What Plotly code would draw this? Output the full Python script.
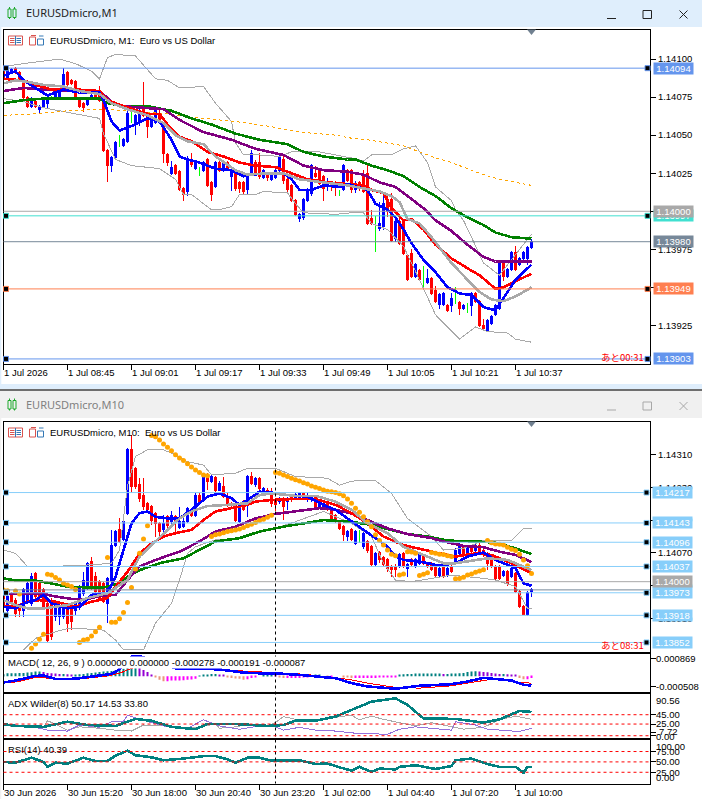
import plotly.graph_objects as go

W = 702
H = 799

# prices are kept as points above these bases
m1_base = 1.13900
m10_base = 1.13830

m1_open = [192,187,191,194,191,186,175,169,172,167,
           169,171,175,174,175,181,191,186,185,174,
           171,170,174,178,179,173,140,130,135,145,
           143,146,167,158,158,168,163,156,158,164,
           157,137,125,130,126,115,113,132,128,125,
           127,134,119,116,132,127,132,123,125,119,
           119,114,125,132,132,122,125,121,122,127,
           134,121,117,107,95,96,107,112,125,127,
           123,116,119,118,112,114,127,127,114,119,
           123,125,95,91,89,90,108,108,82,93,
           94,71,72,57,61,57,53,56,48,39,
           39,38,38,40,40,36,39,38,46,41,
           25,22,26,32,36,66,57,62,73,65,
           69,69,76]
m1_close = [187,193,193,191,186,175,169,174,169,169,
            173,173,175,177,180,190,183,184,174,169,
            168,174,176,175,173,140,130,135,145,145,
            147,164,167,163,164,163,156,159,168,158,
            138,132,129,125,114,111,134,131,132,125,
            132,117,111,132,127,132,128,127,115,115,
            113,124,138,125,123,127,122,124,127,135,
            120,114,107,98,98,108,114,130,123,118,
            115,118,116,116,112,130,120,114,118,115,
            113,92,92,91,92,105,100,81,93,79,
            72,55,57,65,55,57,56,46,41,45,
            46,35,43,40,36,38,39,46,41,25,
            23,28,31,38,67,57,62,73,62,69,
            73,76,80]
m1_high = [193,194,194,195,192,187,176,175,174,170,
           174,174,176,178,181,194,192,187,186,175,
           172,175,177,179,182,174,141,136,146,150,
           148,166,168,164,167,185,165,160,169,168,
           158,138,133,131,127,116,136,138,133,129,
           133,135,120,133,135,133,133,128,126,120,
           120,125,140,134,138,128,126,125,128,138,
           136,122,118,108,99,109,115,131,130,128,
           124,122,120,120,114,131,128,128,120,120,
           127,132,101,97,106,112,112,112,96,96,
           95,72,75,66,62,64,62,57,51,46,
           47,39,46,50,41,39,40,47,47,42,
           29,29,32,39,68,67,63,74,77,70,
           74,77,82]
m1_low = [186,186,190,190,185,174,168,168,168,164,
          168,167,173,173,174,180,182,183,173,168,
          165,169,173,174,172,139,119,126,134,142,
          142,145,158,150,156,162,148,155,157,157,
          132,130,124,124,113,107,110,129,127,123,
          126,116,107,115,126,126,127,113,113,112,
          111,111,124,124,121,121,120,120,121,126,
          118,112,106,97,93,94,106,110,122,117,
          107,113,113,110,110,113,119,112,112,113,
          112,91,91,73,87,88,96,80,80,78,
          71,54,56,56,54,50,52,45,40,36,
          38,34,34,39,32,35,33,31,40,24,
          22,21,25,31,35,54,56,61,61,64,
          68,65,75]

m1_blue_k = [0,3,5,8,11,15,19,24,25,27,29,31,33,36,39,42,44,46,49,53,57,60,62,66,70,72,74,77,80,84,86,91,93,96,98,100,102,105,108,111,114,117,120,123,125,128,132]
m1_blue_v = [189,192,186,181,176,180,178,178,173,159,153,155,157,161,159,147,136,134,132,128,127,123,124,125,125,121,114,114,117,116,118,114,105,101,96,88,79,68,60,50,46,45,37,35,43,55,65]
m1_red_k = [0,5,8,12,18,24,26,30,36,39,41,44,47,51,55,59,63,68,72,76,81,86,90,92,95,97,100,102,105,108,112,117,119,123,125,128,132]
m1_red_v = [187,186,183,180,180,179,173,169,164,164,157,149,146,139,136,132,130,129,125,121,119,118,117,114,112,102,94,95,88,78,69,61,58,49,50,54,59]
m1_purple_k = [0,5,10,15,24,27,30,35,40,44,50,57,63,70,75,80,86,88,90,94,98,102,105,108,112,116,120,123,132]
m1_purple_v = [179,181,180,179,179,172,169,168,167,160,152,147,141,137,130,127,126,125,124,119,116,108,102,94,87,78,70,67,67]
m1_green_k = [0,5,10,15,24,26,30,36,42,47,52,58,64,71,75,80,86,88,92,96,100,104,108,112,116,120,123,127,132]
m1_green_v = [171,173,174,174,174,171,169,169,166,161,157,151,147,144,139,136,134,134,130,127,123,116,110,102,96,91,86,83,82]
m1_gray_k = [0,3,6,10,15,19,24,27,31,36,40,43,46,50,53,58,61,66,70,74,80,86,90,94,97,99,101,104,107,109,112,116,119,122,125,128,132]
m1_gray_v = [184,186,185,183,182,179,177,171,167,163,158,150,146,144,136,127,124,125,125,121,119,117,115,113,110,106,95,92,83,76,66,55,47,42,41,44,50]
m1_upper_k = [0,5,14,18,22,24,26,28,33,36,38,41,44,50,53,57,58,60,64,69,72,75,79,83,87,90,92,97,100,103,106,108,112,113,115,117,120,124,127,132]
m1_upper_v = [195,197,200,197,192,187,201,203,202,193,187,186,181,182,171,159,145,137,137,136,139,139,139,137,135,133,137,137,141,143,132,116,107,101,94,83,66,58,68,85]
m1_lower_k = [0,5,10,14,20,24,25,28,32,39,43,45,47,50,52,54,57,59,63,65,71,73,75,83,87,90,92,96,100,104,108,114,118,121,126,128,132]
m1_lower_v = [174,172,168,166,163,161,151,134,130,128,121,111,111,105,101,101,103,111,111,113,112,105,99,98,99,99,92,88,77,55,32,16,24,21,20,16,14]
m1_orange_k = [0,8,16,24,32,41,46,53,58,66,74,83,87,91,95,100,104,108,112,116,120,124,128,132]
m1_orange_v = [163,164,166,167,166,164,162,160,159,156,152,150,148,147,145,143,139,135,132,128,124,121,119,117]

m1_levels = [1.14094, 1.13997, 1.14000, 1.13980, 1.13949, 1.13903]
m1_level_text = ["1.14094", "1.13997", "1.14000", "1.13980", "1.13949", "1.13903"]
m1_level_color = ["#6495ED", "#40E0D0", "#A9A9A9", "#778899", "#FF7F50", "#6495ED"]
m1_level_handle = [True, True, False, False, True, True]
m1_yticks = [1.14100, 1.14075, 1.14050, 1.14025, 1.14000, 1.13975, 1.13950, 1.13925]
m1_xticks = [0, 16, 32, 48, 64, 80, 96, 112, 128]
m1_xlabels = ["1 Jul 2026", "1 Jul 08:45", "1 Jul 09:01", "1 Jul 09:17", "1 Jul 09:33", "1 Jul 09:49", "1 Jul 10:05", "1 Jul 10:21", "1 Jul 10:37"]

m10_open = [142,101,142,125,109,101,125,117,190,166,
            150,117,125,85,85,85,109,105,101,109,
            142,158,219,182,170,166,117,174,259,296,
            272,337,491,446,406,381,361,353,337,312,
            296,328,316,328,302,304,316,345,332,381,
            373,430,414,424,393,402,373,361,361,316,
            353,361,426,406,422,389,393,381,369,365,
            373,365,377,373,373,385,369,369,377,351,
            349,361,349,330,316,304,280,296,263,280,
            255,268,255,211,241,228,223,207,207,207,
            239,203,223,207,215,231,215,213,207,186,
            207,186,207,215,239,255,239,255,247,259,
            247,239,223,207,207,186,194,182,190,146,
            109,91,146]
m10_close = [109,134,117,93,101,150,166,182,134,134,
             109,28,36,117,109,117,69,73,117,158,
             174,215,158,146,130,121,178,259,292,268,
             316,491,402,402,373,353,345,320,312,292,
             312,308,332,316,316,316,349,332,381,361,
             426,414,426,393,410,377,357,357,320,349,
             345,426,410,422,397,397,385,361,357,373,
             353,373,369,381,385,373,381,377,353,361,
             361,345,324,316,300,284,292,272,292,280,
             288,247,211,239,223,211,203,199,199,235,
             207,211,211,223,239,215,207,199,186,203,
             186,203,194,247,259,239,255,243,259,239,
             235,215,207,178,178,194,166,203,146,109,
             91,143,152]
m10_high = [146,150,146,130,113,154,170,190,194,175,
            155,120,130,120,115,120,113,110,120,162,
            194,219,231,194,175,170,182,296,296,324,
            320,495,527,450,422,422,365,357,340,316,
            332,332,341,332,353,328,353,349,385,385,
            430,434,430,428,414,426,385,365,365,353,
            369,430,438,426,426,400,397,397,373,377,
            377,377,380,385,389,389,385,381,381,365,
            365,365,353,334,320,308,296,300,296,296,
            292,272,260,243,245,232,227,211,212,239,
            243,215,227,227,243,235,219,217,211,207,
            211,207,211,251,263,259,259,259,263,263,
            251,243,227,211,211,198,198,207,194,150,
            113,147,155]
m10_low = [105,93,113,85,85,85,120,110,125,125,
           100,24,28,75,65,80,48,52,90,100,
           135,150,150,140,125,117,69,170,255,263,
           268,333,385,395,365,345,340,308,280,280,
           290,292,310,288,298,300,312,328,328,357,
           369,393,410,389,390,373,353,353,316,312,
           341,328,406,400,393,385,380,353,341,360,
           320,345,365,369,369,369,365,365,349,347,
           345,341,320,312,296,270,270,268,260,263,
           250,240,207,207,215,205,194,182,182,203,
           203,182,205,203,210,210,203,195,178,182,
           178,182,190,211,235,235,235,239,243,235,
           230,199,203,174,174,182,160,178,142,105,
           88,87,133]

m10_blue_k = [0,3,5,8,10,12,16,19,22,26,28,30,32,34,36,38,41,44,47,51,54,57,59,61,64,67,71,76,80,83,87,90,93,96,98,100,104,109,113,116,120,123,128,130,132]
m10_blue_v = [109,105,117,125,138,117,105,109,138,142,182,247,312,337,341,328,324,324,345,377,385,373,357,369,389,387,381,377,357,345,316,296,276,255,231,223,219,209,215,231,241,223,203,166,160]
m10_red_k = [0,3,6,9,13,18,22,26,28,31,34,37,40,43,47,50,53,57,61,63,67,72,78,83,87,91,95,100,105,109,113,118,122,127,132]
m10_red_v = [109,109,121,125,121,109,121,130,158,194,239,263,280,288,296,320,341,349,357,365,369,371,371,357,337,312,280,259,247,239,231,239,235,215,190]
m10_purple_k = [0,5,9,13,17,21,24,28,31,34,38,44,49,53,58,63,68,73,79,83,87,92,96,101,107,110,115,120,124,128,132]
m10_purple_v = [140,140,142,134,128,128,135,138,174,207,223,243,268,292,304,324,335,341,349,345,336,316,300,286,276,268,257,254,243,235,218]
m10_green_k = [0,3,8,12,16,21,25,29,31,34,39,45,49,53,59,64,70,76,80,87,92,97,101,106,111,118,123,128,132]
m10_green_v = [178,173,173,166,158,156,156,166,182,198,215,227,247,268,276,292,304,314,320,316,308,296,286,280,270,268,265,251,237]
m10_gray_k = [0,3,6,10,16,21,26,28,31,34,38,41,44,47,51,56,61,64,67,73,78,83,87,91,96,100,105,110,113,118,121,126,132]
m10_gray_v = [125,113,105,105,113,130,142,154,174,231,268,296,324,341,354,357,361,381,385,379,379,365,345,312,288,255,235,215,215,223,227,223,198]
m10_upper_k = [0,3,6,12,22,27,29,31,33,36,40,43,46,50,52,58,61,68,73,81,84,87,93,97,101,107,110,115,120,127,130,132]
m10_upper_v = [247,239,207,207,211,215,247,402,475,491,491,479,462,454,430,434,446,446,426,422,405,415,416,385,324,280,247,251,270,270,300,300]
m10_lower_k = [5,8,13,16,19,25,28,30,35,38,42,44,46,48,53,57,62,68,73,80,87,92,95,98,102,107,112,120,123,128,131,132]
m10_lower_v = [4,32,48,56,56,52,28,4,4,69,117,174,239,255,272,272,284,300,316,341,312,280,215,174,170,178,186,178,174,158,105,105]

sar_k = [0,1,3,4,7,8,9,10,11,12,13,14,15,16,17,18,19,20,21,22,23,24,26,27,28,29,30,31,32,33,34,35,36,
         37,38,39,40,41,42,43,44,45,46,47,48,49,50,51,52,53,54,55,56,57,58,59,60,61,62,63,64,65,66,67,
         68,69,70,71,72,73,74,75,76,77,78,79,80,81,82,83,84,85,86,87,88,89,90,91,92,93,94,95,96,97,98,
         99,100,101,102,103,104,105,106,107,108,109,110,111,112,113,114,115,116,117,118,119,120,
         121,122,123,124,125,126,127,128,129,130,131,132]
sar_v = [150,148,147,140,8,18,30,42,188,186,180,174,166,162,158,151,22,28,30,38,48,59,229,71,71,80,95,119,156,201,239,274,306,
         526,523,515,505,497,489,479,471,465,457,449,442,436,430,428,280,284,286,289,292,294,296,298,302,306,310,314,319,322,327,332,
         436,434,430,426,422,418,415,411,408,403,400,397,393,390,389,387,384,379,371,361,349,339,328,316,304,284,270,259,247,237,233,
         186,189,243,242,239,185,188,192,241,239,237,236,233,231,177,178,181,186,189,193,196,199,
         270,265,262,261,259,254,249,246,237,223,209,190]

m10_levels = [1.14217, 1.14143, 1.14096, 1.14037, 1.13973, 1.13918, 1.13852]
m10_level_text = ["1.14217", "1.14143", "1.14096", "1.14037", "1.13973", "1.13918", "1.13852"]
m10_yticks = [1.14310, 1.14230, 1.14150, 1.14070, 1.13990, 1.13910]
m10_xticks = [0, 16, 32, 48, 64, 80, 96, 112, 128]
m10_xlabels = ["30 Jun 2026", "30 Jun 15:20", "30 Jun 18:00", "30 Jun 20:40", "30 Jun 23:20", "1 Jul 02:00", "1 Jul 04:40", "1 Jul 07:20", "1 Jul 10:00"]

# macd histogram in millionths
macd_hist = [96,144,144,144,160,160,176,192,224,224,
             208,160,144,128,112,112,96,80,80,96,
             112,144,160,176,208,224,240,256,288,320,
             368,432,464,512,432,304,208,64,-48,-176,
             -240,-240,-208,-208,-208,-192,-176,-160,-128,16,
             80,80,112,112,80,48,-16,-80,-112,-128,
             -176,-144,-80,-48,0,48,64,64,48,-64,
             -80,-80,-80,-80,-80,-48,-16,32,48,48,
             0,-16,-16,0,0,-16,-32,-80,-80,-80,
             -80,-80,-80,-80,-64,-64,-64,-64,-64,80,
             96,112,112,128,128,128,128,128,128,128,
             112,112,128,128,144,160,208,224,240,224,
             208,192,160,128,112,112,96,80,64,-80,
             -144,-144,-80]
macd_k = [0,3,8,10,13,16,19,23,27,29,32,34,38,43,47,50,55,60,64,68,74,79,83,87,91,98,104,112,116,120,123,127,130,132]
macd_v = [-304,-208,16,32,-128,-144,-96,16,112,336,944,976,704,384,352,384,304,176,144,144,64,-16,-96,-336,-496,-608,-464,-384,-256,-80,-144,-208,-416,-448]
signal_k = [0,4,8,12,17,21,26,29,32,37,43,48,53,58,63,68,74,79,87,91,98,104,112,120,123,128,132]
signal_v = [-336,-256,-48,-96,-176,-96,16,144,384,624,624,384,384,272,224,176,112,16,-176,-336,-544,-576,-464,-208,-128,-288,-336]

adx_k = [0,3,10,16,21,28,33,37,42,48,51,58,66,70,73,78,83,87,92,98,101,105,113,120,124,129,132]
adx_v = [25,21,19,30,23,21,36,32,19,14,25,25,21,23,32,32,41,55,73,80,66,37,36,28,35,53,51]
minus_di_k = [0,3,8,10,11,13,16,19,24,28,32,35,41,46,49,53,54,58,62,66,68,70,73,78,81,87,89,92,95,98,103,107,112,115,120,124,128,132]
minus_di_v = [23,19,23,18,32,25,12,19,16,12,10,23,21,16,19,25,16,19,25,21,28,41,35,32,37,44,34,42,35,30,21,28,19,14,18,34,42,35]
plus_di_k = [0,3,8,11,16,19,24,27,30,31,34,41,46,50,54,59,64,68,70,74,78,83,87,96,99,103,107,112,113,118,121,129,132]
plus_di_v = [26,23,18,12,10,23,18,30,31,44,35,19,16,34,21,14,21,19,12,18,12,10,6,3,14,19,16,12,30,23,14,9,16]
adx_levels = [45, 25, 0]

rsi_k = [0,3,7,10,11,13,16,20,23,26,28,31,33,37,40,45,50,53,56,58,61,64,67,71,74,78,81,84,87,89,92,94,98,99,103,108,112,113,117,121,124,128,130,131,132]
rsi_v = [50,48,60,50,38,48,46,60,52,52,65,77,66,61,54,58,64,64,56,48,60,60,53,53,54,45,46,37,29,38,26,34,32,38,42,33,40,54,58,45,38,38,24,38,38]
rsi_levels = [75, 50, 25]

BLUE = "#0000FF"
RED = "#FF0000"
PURPLE = "#800080"
GREEN = "#008000"
GRAY = "#A9A9A9"
ORANGE = "#FFA500"
LIME = "#00FF00"
TEAL = "#008080"
SKY = "#87CEFA"
FONT = "Liberation Sans"
TEXT_SIZE = 9.5
THICK = 2.6
LEFT = 3.5
RIGHT = 650
X_RANGE = [0, (RIGHT - LEFT) / 4]


def xp(x):
    return x / W


def yp(y):
    return 1 - y / H


def shape_box(x0, y0, x1, y1, fill=None, line=None, width=1):
    return dict(type="rect", xref="paper", yref="paper", x0=xp(x0), x1=xp(x1), y0=yp(y0), y1=yp(y1),
                fillcolor=fill if fill else "rgba(0,0,0,0)",
                line=dict(color=line if line else "rgba(0,0,0,0)", width=width if line else 0))


def shape_seg(x0, y0, x1, y1, color, width=1):
    return dict(type="line", xref="paper", yref="paper", x0=xp(x0), x1=xp(x1), y0=yp(y0), y1=yp(y1),
                line=dict(color=color, width=width))


def label(x, y, text, color="black", size=TEXT_SIZE, family=FONT, **kw):
    return dict(xref="paper", yref="paper", x=xp(x), y=yp(y), text=text, showarrow=False, xanchor="left",
                yanchor="middle", font=dict(family=family, size=size, color=color), borderpad=0, **kw)


def line(k, v, base, color, width, xa, ya, dash=None):
    return go.Scatter(x=k, y=[base + p / 1e5 for p in v], mode="lines", xaxis=xa, yaxis=ya, hoverinfo="skip",
                      line=dict(color=color, width=width, dash=dash))


def candles(o, h, l, c, base, xa, ya):
    prices = lambda arr, keep: [base + p / 1e5 for p, a, b in zip(arr, o, c) if keep(a, b)]
    idx = lambda keep: [i for i, (a, b) in enumerate(zip(o, c)) if keep(a, b)]
    solid = lambda a, b: a != b
    doji = lambda a, b: a == b
    out = []
    for keep, up, down in ((solid, BLUE, RED), (doji, LIME, LIME)):
        out.append(go.Candlestick(x=idx(keep), open=prices(o, keep), high=prices(h, keep), low=prices(l, keep),
                                  close=prices(c, keep), xaxis=xa, yaxis=ya, whiskerwidth=0, hoverinfo="skip",
                                  increasing=dict(line=dict(color=up, width=1), fillcolor=up),
                                  decreasing=dict(line=dict(color=down, width=1), fillcolor=down)))
    return out


fig = go.Figure()

# M1 window
for t in candles(m1_open, m1_high, m1_low, m1_close, m1_base, "x", "y"):
    fig.add_trace(t)
fig.add_trace(line(m1_upper_k, m1_upper_v, m1_base, GRAY, 1, "x", "y"))
fig.add_trace(line(m1_lower_k, m1_lower_v, m1_base, GRAY, 1, "x", "y"))
fig.add_trace(line(m1_orange_k, m1_orange_v, m1_base, ORANGE, 1, "x", "y", dash="3px,3px"))
fig.add_trace(line(m1_green_k, m1_green_v, m1_base, GREEN, THICK, "x", "y"))
fig.add_trace(line(m1_purple_k, m1_purple_v, m1_base, PURPLE, THICK, "x", "y"))
fig.add_trace(line(m1_red_k, m1_red_v, m1_base, RED, THICK, "x", "y"))
fig.add_trace(line(m1_blue_k, m1_blue_v, m1_base, BLUE, THICK, "x", "y"))
fig.add_trace(line(m1_gray_k, m1_gray_v, m1_base, GRAY, THICK, "x", "y"))

# M10 window
for t in candles(m10_open, m10_high, m10_low, m10_close, m10_base, "x2", "y2"):
    fig.add_trace(t)
fig.add_trace(line(m10_upper_k, m10_upper_v, m10_base, GRAY, 1, "x2", "y2"))
fig.add_trace(line(m10_lower_k, m10_lower_v, m10_base, GRAY, 1, "x2", "y2"))
fig.add_trace(line(m10_green_k, m10_green_v, m10_base, GREEN, THICK, "x2", "y2"))
fig.add_trace(line(m10_purple_k, m10_purple_v, m10_base, PURPLE, THICK, "x2", "y2"))
fig.add_trace(line(m10_red_k, m10_red_v, m10_base, RED, THICK, "x2", "y2"))
fig.add_trace(line(m10_blue_k, m10_blue_v, m10_base, BLUE, THICK, "x2", "y2"))
fig.add_trace(line(m10_gray_k, m10_gray_v, m10_base, GRAY, THICK, "x2", "y2"))
fig.add_trace(go.Scatter(x=sar_k, y=[m10_base + p / 1e5 for p in sar_v], mode="markers", xaxis="x2", yaxis="y2",
                         hoverinfo="skip", marker=dict(color=ORANGE, size=5)))

# MACD colour follows sign and direction of the histogram
hist_colors = []
for i, v in enumerate(macd_hist):
    prev = macd_hist[i - 1] if i else 0
    if v >= 0:
        hist_colors.append(TEAL if v >= prev else "#9400D3")
    else:
        hist_colors.append("#E9967A" if v < prev else "#FF00FF")
fig.add_trace(go.Bar(x=list(range(len(macd_hist))), y=[v / 1e6 for v in macd_hist], width=0.25, xaxis="x3", yaxis="y3",
                     hoverinfo="skip", marker=dict(color=hist_colors, line=dict(width=0))))
fig.add_trace(go.Scatter(x=signal_k, y=[v / 1e6 for v in signal_v], mode="lines", xaxis="x3", yaxis="y3",
                         hoverinfo="skip", line=dict(color=RED, width=1)))
fig.add_trace(go.Scatter(x=macd_k, y=[v / 1e6 for v in macd_v], mode="lines", xaxis="x3", yaxis="y3",
                         hoverinfo="skip", line=dict(color=BLUE, width=THICK)))

fig.add_trace(go.Scatter(x=minus_di_k, y=minus_di_v, mode="lines", xaxis="x4", yaxis="y4", hoverinfo="skip",
                         line=dict(color=GRAY, width=1)))
fig.add_trace(go.Scatter(x=plus_di_k, y=plus_di_v, mode="lines", xaxis="x4", yaxis="y4", hoverinfo="skip",
                         line=dict(color="#9370DB", width=1)))
fig.add_trace(go.Scatter(x=adx_k, y=adx_v, mode="lines", xaxis="x4", yaxis="y4", hoverinfo="skip",
                         line=dict(color=TEAL, width=THICK)))
fig.add_trace(go.Scatter(x=rsi_k, y=rsi_v, mode="lines", xaxis="x5", yaxis="y5", hoverinfo="skip",
                         line=dict(color=TEAL, width=THICK)))

shapes = []
notes = []

# window chrome
shapes.append(shape_box(0, 0, W, 27, fill="#DFEEFC"))
shapes.append(shape_box(0, 27, 1.3, 384, fill="#DFEEFC"))
shapes.append(shape_box(0, 384, W, 389, fill="#DFEEFC"))
shapes.append(shape_box(0, 389, W, 391, fill="#6E6E6E"))
shapes.append(shape_box(0, 391, W, 418, fill="#F0F0F0"))
shapes.append(shape_box(0, 418, 1.3, H, fill="#F0F0F0"))
notes.append(label(24.5, 13, "EURUSDmicro,M1", color="#222222", size=11, family="Noto Sans"))
notes.append(label(24.5, 404.5, "EURUSDmicro,M10", color="#808080", size=11, family="Noto Sans"))

for top, c_min, c_box in ((0, "#222222", "#222222"), (391, "#A8A8A8", "#A8A8A8")):
    dy = 0 if top == 0 else 391.5
    shapes.append(shape_seg(607, 18.5 + dy, 616, 18.5 + dy, c_min))
    shapes.append(shape_box(643, 10.5 + dy, 651.5, 18.5 + dy, line=c_box))
    shapes.append(shape_seg(679.5, 10.5 + dy, 687.5, 18.5 + dy, c_box))
    shapes.append(shape_seg(679.5, 18.5 + dy, 687.5, 10.5 + dy, c_box))
    # candle icon
    for cx in (9.5, 14.5):
        shapes.append(shape_box(cx - 1.5, 9 + dy, cx + 1.5, 17.5 + dy, line="#1DA82A"))
        shapes.append(shape_seg(cx, 7 + dy, cx, 9 + dy, "#1DA82A"))
        shapes.append(shape_seg(cx, 17.5 + dy, cx, 19 + dy, "#1DA82A"))

for dy in (0, 392):
    # small toolbar icons inside each chart
    shapes.append(shape_box(8.5, 36 + dy, 22.5, 45 + dy, line="#D9534F"))
    shapes.append(shape_seg(15.5, 36 + dy, 15.5, 45 + dy, "#3478B5"))
    for ly in (38.5, 40.5, 42.5):
        shapes.append(shape_seg(10, ly + dy, 14.5, ly + dy, "#D9534F"))
        shapes.append(shape_seg(16.5, ly + dy, 21, ly + dy, "#3478B5"))
    shapes.append(shape_box(29.5, 37 + dy, 35.5, 45 + dy, line="#D9534F"))
    shapes.append(shape_box(37.5, 39 + dy, 43.5, 45 + dy, line="#3478B5"))
    shapes.append(shape_seg(31, 35.5 + dy, 36, 35.5 + dy, "#D9534F"))
    shapes.append(shape_seg(39, 36 + dy, 43.5, 36 + dy, "#3478B5"))

notes.append(label(49, 40.5, "EURUSDmicro, M1:  Euro vs US Dollar"))
notes.append(label(49, 432.5, "EURUSDmicro, M10:  Euro vs US Dollar"))

# fixed-shift triangles at the top of both charts
for ty in (29.5, 421.5):
    shapes.append(dict(type="path", xref="paper", yref="paper",
                       path=f"M {xp(527)} {yp(ty)} L {xp(536)} {yp(ty)} L {xp(531.5)} {yp(ty + 5.5)} Z",
                       fillcolor="#708090", line=dict(width=0)))


def add_levels(levels, texts, colors, handles, yref, lx0, hx):
    for p, col, has in zip(levels, colors, handles):
        shapes.append(dict(type="line", xref="paper", yref=yref, x0=xp(LEFT), x1=xp(RIGHT), y0=p, y1=p,
                           line=dict(color=col, width=1)))
        if has:
            for cx in (6, hx):
                shapes.append(dict(type="rect", xref="paper", yref=yref, ysizemode="pixel", yanchor=p, y0=-2.5, y1=2.5,
                                   x0=xp(cx - 2.5), x1=xp(cx + 2.5), fillcolor="black", line=dict(color=col, width=1)))
    for p, txt, col in zip(levels, texts, colors):
        notes.append(dict(xref="paper", yref=yref, x=xp(lx0), y=p, text=txt, showarrow=False, xanchor="left",
                          yanchor="middle", bgcolor=col, width=39, height=10.5, borderpad=0, align="center",
                          font=dict(family=FONT, size=TEXT_SIZE, color="white")))


add_levels(m1_levels, m1_level_text, m1_level_color, m1_level_handle, "y", 653, 647.5)
shapes.append(dict(type="line", xref="paper", yref="y2", x0=xp(LEFT), x1=xp(RIGHT), y0=1.13980, y1=1.13980,
                   line=dict(color="#778899", width=1)))
shapes.append(dict(type="line", xref="paper", yref="y2", x0=xp(LEFT), x1=xp(RIGHT), y0=1.14000, y1=1.14000,
                   line=dict(color=GRAY, width=1)))
add_levels(m10_levels, m10_level_text, [SKY] * len(m10_levels), [True] * len(m10_levels), "y2", 652, 646.5)
notes.append(dict(xref="paper", yref="y2", x=xp(652), y=1.14000, text="1.14000", showarrow=False, xanchor="left",
                  yanchor="middle", bgcolor=GRAY, width=39, height=10.5, borderpad=0, align="center",
                  font=dict(family=FONT, size=TEXT_SIZE, color="white")))

notes.append(label(600, 357, "あと00:31", color=RED, size=9.5, family="Noto Sans CJK JP"))
notes.append(label(600, 645, "あと08:31", color=RED, size=9.5, family="Noto Sans CJK JP"))

# crosshair period separator
shapes.append(dict(type="line", xref="x2", yref="paper", x0=68, x1=68, y0=yp(421.5), y1=yp(783.5),
                   line=dict(color="black", width=1, dash="3px,3px")))

for level in adx_levels:
    shapes.append(dict(type="line", xref="paper", yref="y4", x0=xp(LEFT), x1=xp(RIGHT), y0=level, y1=level,
                       line=dict(color=RED, width=1, dash="3px,3px")))
for level in rsi_levels:
    shapes.append(dict(type="line", xref="paper", yref="y5", x0=xp(LEFT), x1=xp(RIGHT), y0=level, y1=level,
                       line=dict(color=RED, width=1, dash="3px,3px")))

notes.append(label(7, 662.7, "MACD( 12, 26, 9 ) 0.000000 0.000000 -0.000278 -0.000191 -0.000087", bgcolor="white"))
notes.append(label(7, 703.5, "ADX Wilder(8) 50.17 14.53 33.80"))
notes.append(label(7, 749.5, "RSI(14) 40.39"))

# sub window scale labels sit where MT5 clamps them, so they are placed by hand
for ly, txt, lx in ((658.3, "0.000869", 655), (686.7, "-0.000508", 655), (700, "90.56", 655), (714.3, "45.00", 655),
                    (723.3, "25.00", 655), (731, "7.72", 658), (736, "0.00", 655), (746, "100.00", 655),
                    (751.5, "75.00", 655), (761.7, "50.00", 655), (772.3, "25.00", 655), (777.3, "0.00", 655)):
    notes.append(label(lx, ly, txt))

for xv, txt in zip(m1_xticks, m1_xlabels):
    notes.append(dict(xref="x", yref="paper", x=xv, y=yp(372.7), text=txt, showarrow=False, xanchor="left", yanchor="middle",
                      xshift=-1.5, font=dict(family=FONT, size=TEXT_SIZE, color="black")))
for xv, txt in zip(m10_xticks, m10_xlabels):
    notes.append(dict(xref="x5", yref="paper", x=xv, y=yp(792.7), text=txt, showarrow=False, xanchor="left", yanchor="middle",
                      xshift=-1.5, font=dict(family=FONT, size=TEXT_SIZE, color="black")))

axis = dict(showgrid=False, zeroline=False, showline=True, linecolor="black", linewidth=1, mirror=True,
            fixedrange=True)
xcommon = dict(axis, domain=[xp(LEFT), xp(RIGHT)], range=X_RANGE, rangeslider=dict(visible=False), showticklabels=False)
ycommon = dict(axis, side="right", ticks="outside", ticklen=5, tickcolor="black",
               tickfont=dict(family=FONT, size=TEXT_SIZE, color="black"))

fig.update_layout(
    width=W, height=H, margin=dict(l=0, r=0, t=0, b=0, autoexpand=False),
    paper_bgcolor="white", plot_bgcolor="white", showlegend=False, barmode="overlay",
    shapes=shapes, annotations=notes,
    xaxis=dict(xcommon, anchor="y", ticks="outside", ticklen=5, tickcolor="black", tickvals=m1_xticks),
    yaxis=dict(ycommon, anchor="x", domain=[yp(363.5), yp(29.5)], range=[1.13900, 1.141194], tickvals=m1_yticks,
               tickformat=".5f"),
    xaxis2=dict(xcommon, anchor="y2", ticks=""),
    yaxis2=dict(ycommon, anchor="x2", domain=[yp(651.5), yp(421.5)], range=[1.13830, 1.14390], tickvals=m10_yticks,
                tickformat=".5f"),
    xaxis3=dict(xcommon, anchor="y3", ticks=""),
    yaxis3=dict(ycommon, anchor="x3", domain=[yp(692.3), yp(653.5)], range=[-0.000779, 0.001102],
                tickvals=[0.000869, -0.000508], showticklabels=False),
    xaxis4=dict(xcommon, anchor="y4", ticks=""),
    yaxis4=dict(ycommon, anchor="x4", domain=[yp(738.3), yp(694.3)], range=[-5.5, 88.7],
                tickvals=[45, 25, 7.72, 0], showticklabels=False),
    xaxis5=dict(xcommon, anchor="y5", ticks="outside", ticklen=5, tickcolor="black", tickvals=m10_xticks),
    yaxis5=dict(ycommon, anchor="x5", domain=[yp(783.5), yp(740.3)], range=[-2, 102],
                tickvals=[75, 50, 25], showticklabels=False),
)

# aliased strokes, the way MT5 paints its lines
fig.write_html("out.html", config=dict(displayModeBar=False),
               post_script="document.body.style.margin='0';document.body.style.overflow='hidden';"
                           "document.querySelectorAll('.scatterlayer .js-line, .boxlayer path')"
                           ".forEach(function(p){p.style.shapeRendering='crispEdges';});")
